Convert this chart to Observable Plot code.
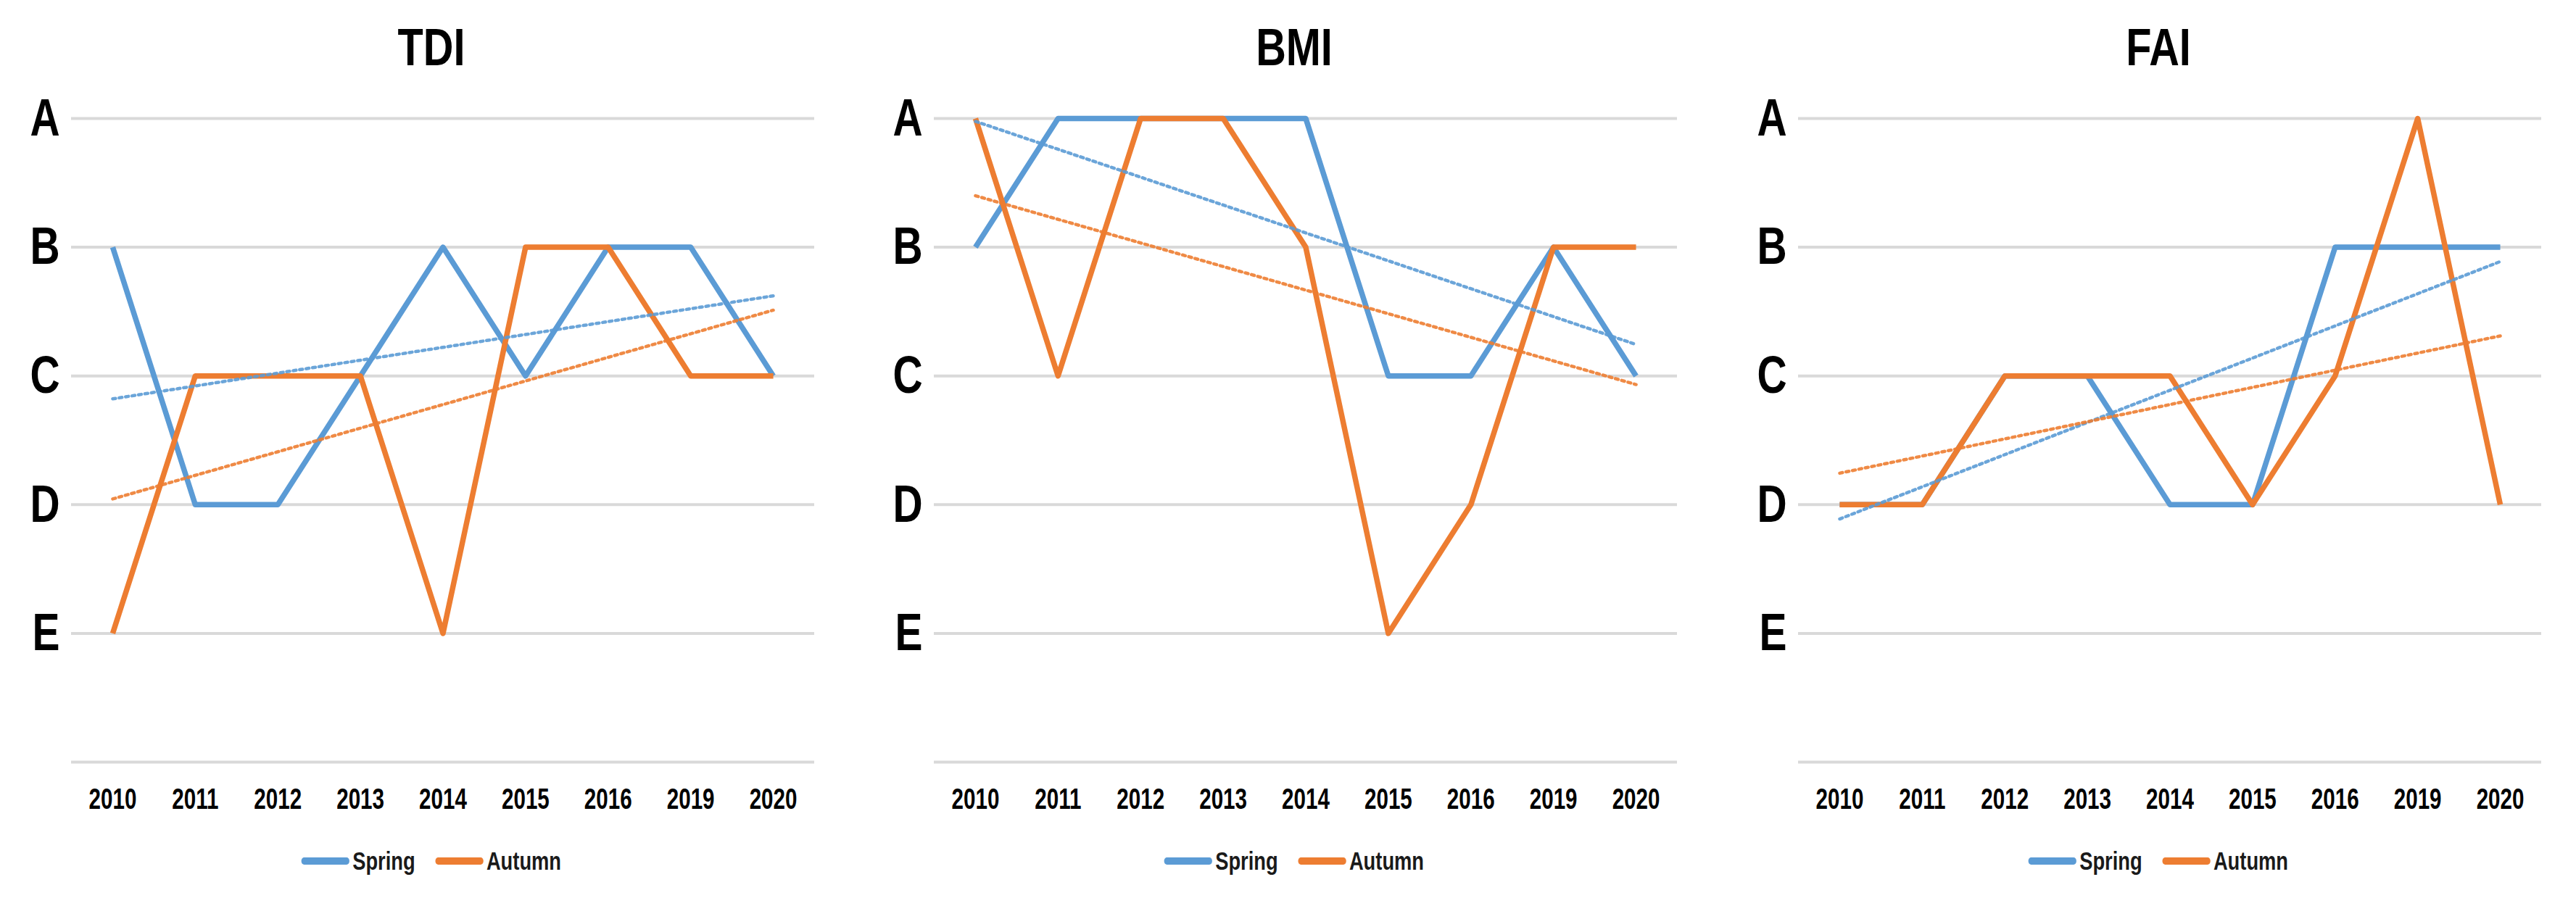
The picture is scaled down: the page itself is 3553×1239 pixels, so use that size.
<!DOCTYPE html>
<html>
<head>
<meta charset="utf-8">
<script src="https://cdn.jsdelivr.net/npm/d3@7"></script>
<script src="https://cdn.jsdelivr.net/npm/@observablehq/plot@0.6"></script>
<style>
  html, body { margin: 0; padding: 0; background: #fff; }
  body { width: 3553px; height: 1239px; position: relative; overflow: hidden;
         font-family: "Liberation Sans", Arial, sans-serif; font-weight: bold; }
  .panel { position: absolute; top: 0; width: 1190px; height: 1239px; }
  .title { position: absolute; left: 0; width: 1190px; top: 28px; text-align: center;
           font-size: 73px; line-height: 73px; color: #000; transform: scaleX(0.79); transform-origin: 595px 0; }
  .chart { position: absolute; left: 0; top: 120px; }
  .legend { position: absolute; left: 0; width: 1190px; top: 1168px; height: 40px;
            display: flex; justify-content: center; align-items: center; font-size: 35px; color: #1a1a1a;
            transform: scaleX(0.78); transform-origin: 595px 50%; }
  .item { display: flex; align-items: center; margin: 0 18px; }
  .sw { width: 85px; height: 10px; border-radius: 5px; margin-right: 5px; }
</style>
</head>
<body>
<script>
const years = ["2010", "2011", "2012", "2013", "2014", "2015", "2016", "2019", "2020"];
const grades = ["E", "D", "C", "B", "A"]; // lowest to highest level
const seasons = ["Spring", "Autumn"];
const colors = ["#5B9BD5", "#ED7D31"];

const tdiSpring = ["B", "D", "D", "C", "B", "C", "B", "B", "C"];
const tdiAutumn = ["E", "C", "C", "C", "E", "B", "B", "C", "C"];
const bmiSpring = ["B", "A", "A", "A", "A", "C", "C", "B", "C"];
const bmiAutumn = ["A", "C", "A", "A", "B", "E", "D", "B", "B"];
const faiSpring = ["D", "D", "C", "C", "D", "D", "B", "B", "B"];
const faiAutumn = ["D", "D", "C", "C", "C", "D", "C", "A", "D"];

const titles = ["TDI", "BMI", "FAI"];
const seriesByPanel = [[tdiSpring, tdiAutumn], [bmiSpring, bmiAutumn], [faiSpring, faiAutumn]];
const panelLefts = [0, 1190, 2382];

const level = g => grades.indexOf(g) + 1;
const fontStack = "'Liberation Sans', Arial, sans-serif";

// narrow the glyphs horizontally (the reference uses a condensed face)
function condense(svg, selector, s) {
  svg.querySelectorAll(selector).forEach(el => {
    const tr = el.getAttribute("transform") || "";
    el.setAttribute("transform", tr + ` scale(${s},1)`);
  });
}

titles.forEach((title, p) => {
  const panel = document.createElement("div");
  panel.className = "panel";
  panel.style.left = panelLefts[p] + "px";
  document.body.appendChild(panel);

  const t = document.createElement("div");
  t.className = "title";
  t.textContent = title;
  panel.appendChild(t);

  const rows = [];
  seriesByPanel[p].forEach((vals, s) => {
    vals.forEach((g, i) => rows.push({i, year: years[i], value: level(g), season: seasons[s]}));
  });
  const bySeason = s => rows.filter(d => d.season === s);

  const marks = [
    Plot.ruleY(d3.range(0, grades.length + 1), {stroke: "#d9d9d9", strokeWidth: 4}),
    Plot.axisX({ticks: years.map((_, i) => i), tickFormat: i => years[i], tickSize: 0, tickPadding: 36,
                fontSize: 40, fontWeight: "bold", fill: "#000", label: null}),
    Plot.axisY({ticks: grades.map((_, i) => i + 1), tickFormat: v => grades[v - 1], tickSize: 0, tickPadding: 16,
                fontSize: 73, fontWeight: "bold", fill: "#000", label: null})
  ];
  seasons.forEach((s, k) => {
    marks.push(Plot.line(bySeason(s), {x: "i", y: "value", stroke: colors[k], strokeWidth: 7.5,
                                       strokeLinejoin: "round", strokeLinecap: "butt"}));
  });
  seasons.forEach((s, k) => {
    marks.push(Plot.linearRegressionY(bySeason(s), {x: "i", y: "value", stroke: colors[k], ci: 0,
                                       strokeWidth: 4.5, strokeDasharray: "4,5", strokeOpacity: 0.9}));
  });

  const chart = Plot.plot({
    width: 1190,
    height: 1020,
    marginLeft: 98,
    marginRight: 67,
    marginTop: 43,
    marginBottom: 89,
    x: {domain: [-0.5, years.length - 0.5]},
    y: {domain: [0, grades.length]},
    style: {fontFamily: fontStack, fontWeight: "bold", background: "transparent", color: "#000", overflow: "visible"},
    marks
  });
  condense(chart, 'g[aria-label="x-axis tick label"] text', 0.74);
  condense(chart, 'g[aria-label="y-axis tick label"] text', 0.78);

  const wrap = document.createElement("div");
  wrap.className = "chart";
  wrap.appendChild(chart);
  panel.appendChild(wrap);

  const legend = document.createElement("div");
  legend.className = "legend";
  seasons.forEach((s, k) => {
    const item = document.createElement("div");
    item.className = "item";
    const sw = document.createElement("span");
    sw.className = "sw";
    sw.style.background = colors[k];
    const lab = document.createElement("span");
    lab.textContent = s;
    item.appendChild(sw);
    item.appendChild(lab);
    legend.appendChild(item);
  });
  panel.appendChild(legend);
});
</script>
</body>
</html>
